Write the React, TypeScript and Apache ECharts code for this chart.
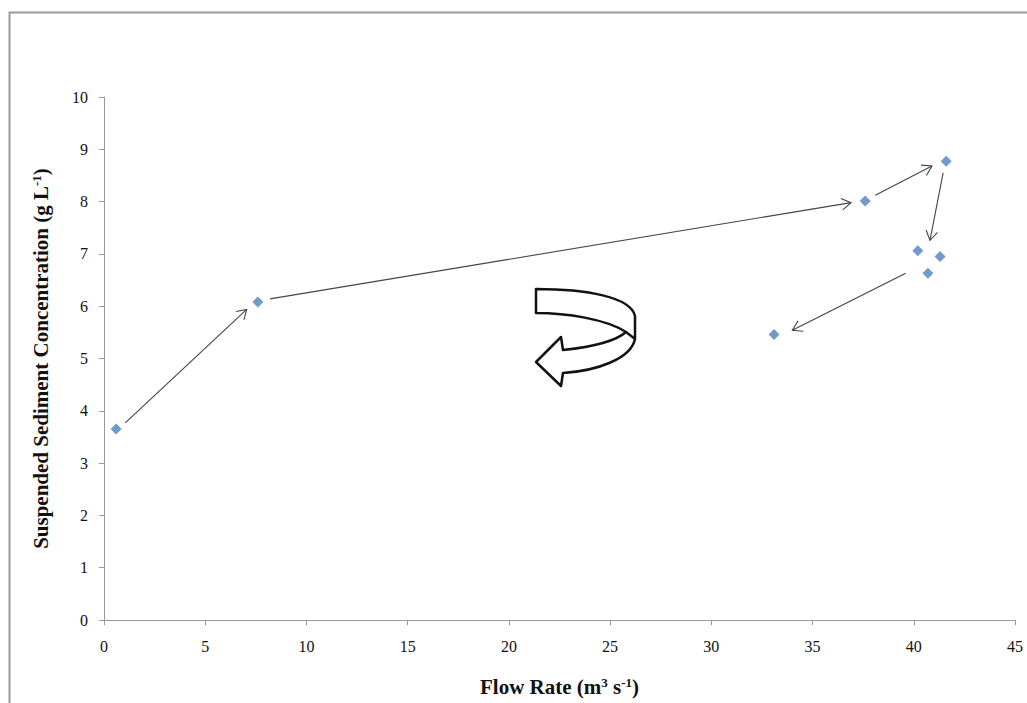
import React, { useEffect, useRef } from "react";
import * as echarts from "echarts";

// Flow rate (m3 s-1) and suspended sediment concentration (g L-1)
const flowRate = [0.6, 7.6, 37.6, 41.6, 40.2, 41.3, 40.7, 33.1];
const sediment = [3.65, 6.08, 8.01, 8.77, 7.06, 6.95, 6.63, 5.46];

// Hysteresis arrows: start and end in data units
const arrowFrom: number[][] = [
  [1.05, 3.77],
  [8.2, 6.14],
  [38.1, 8.12],
  [41.45, 8.55],
  [39.6, 6.63],
];
const arrowTo: number[][] = [
  [7.05, 5.94],
  [36.9, 7.98],
  [40.9, 8.68],
  [40.8, 7.26],
  [34.0, 5.54],
];

const xTicks = { min: 0, max: 45, interval: 5 };
const yTicks = { min: 0, max: 10, interval: 1 };

const uturnPath =
  "M0 0 C50 0 95 8 99 27 L99 50 C95 70 60 82 27 84 L25 97 L0 73 L25 48 L27 61 C55 58 80 52 90 43 C70 30 30 24 0 24 Z M90 43 L99 50";

echarts.graphic.registerShape("uturn", (echarts.graphic as any).extendPath(uturnPath, {}));

const serif = "'Liberation Serif', 'Times New Roman', serif";

const titleStyle = {
  fontFamily: serif,
  fontWeight: "bold",
  fontSize: 21,
  color: "#111",
  rich: {
    sup: { fontSize: 13, fontFamily: serif, fontWeight: "bold", color: "#111", verticalAlign: "top", padding: [0, 0, 9, 0] },
  },
};

export default function App() {
  const ref = useRef<HTMLDivElement>(null);
  useEffect(() => {
    if (!ref.current) return;
    const chart = echarts.init(ref.current, undefined, { renderer: "svg" });
    const arrowData = arrowFrom.map((f, i) => [f[0], f[1], arrowTo[i][0], arrowTo[i][1]]);
    chart.setOption({
      animation: false,
      backgroundColor: "#ffffff",
      grid: { left: 104, right: 12, top: 97, bottom: 83 },
      xAxis: {
        type: "value",
        min: xTicks.min,
        max: xTicks.max,
        interval: xTicks.interval,
        name: "Flow Rate (m{sup|3} s{sup|-1})",
        nameLocation: "middle",
        nameGap: 56,
        nameTextStyle: titleStyle,
        axisLine: { show: true, lineStyle: { color: "#999", width: 1 } },
        axisTick: { show: true, inside: false, length: 5, lineStyle: { color: "#999" } },
        axisLabel: { fontFamily: serif, fontSize: 16, color: "#111", margin: 18 },
        splitLine: { show: false },
      },
      yAxis: {
        type: "value",
        min: yTicks.min,
        max: yTicks.max,
        interval: yTicks.interval,
        name: "Suspended Sediment Concentration (g L{sup|-1})",
        nameLocation: "middle",
        nameGap: 52,
        nameTextStyle: titleStyle,
        axisLine: { show: true, lineStyle: { color: "#999", width: 1 } },
        axisTick: { show: true, inside: false, length: 5, lineStyle: { color: "#999" } },
        axisLabel: { fontFamily: serif, fontSize: 16, color: "#111", margin: 16 },
        splitLine: { show: false },
      },
      series: [
        {
          type: "custom",
          coordinateSystem: "cartesian2d",
          silent: true,
          renderItem: (params: any, api: any) => {
            const p1 = api.coord([api.value(0), api.value(1)]);
            const p2 = api.coord([api.value(2), api.value(3)]);
            const dx = p2[0] - p1[0];
            const dy = p2[1] - p1[1];
            const len = Math.sqrt(dx * dx + dy * dy) || 1;
            const ux = dx / len;
            const uy = dy / len;
            const head = 11;
            const ang = (32 * Math.PI) / 180;
            const cos = Math.cos(ang);
            const sin = Math.sin(ang);
            const bx = -ux;
            const by = -uy;
            const a1 = [p2[0] + head * (bx * cos - by * sin), p2[1] + head * (bx * sin + by * cos)];
            const a2 = [p2[0] + head * (bx * cos + by * sin), p2[1] + head * (-bx * sin + by * cos)];
            return {
              type: "group",
              children: [
                {
                  type: "line",
                  shape: { x1: p1[0], y1: p1[1], x2: p2[0], y2: p2[1] },
                  style: { stroke: "#444", lineWidth: 1.1 },
                },
                {
                  type: "polyline",
                  shape: { points: [a1, p2, a2] },
                  style: { stroke: "#444", lineWidth: 1.1, fill: null },
                },
              ],
            };
          },
          data: arrowData,
          z: 2,
        },
        {
          type: "scatter",
          symbol: "diamond",
          symbolSize: 11,
          itemStyle: { color: "#4F81BD" },
          data: flowRate.map((x, i) => [x, sediment[i]]),
          z: 3,
        },
      ],
      graphic: [
        {
          type: "rect",
          shape: { x: 9.5, y: 12.5, width: 1100, height: 800 },
          style: { fill: null, stroke: "#999", lineWidth: 2 },
          silent: true,
          z: 0,
        },
        {
          type: "uturn",
          x: 536,
          y: 289,
          scaleX: 1,
          scaleY: 1,
          style: { fill: "#ffffff", stroke: "#111", lineWidth: 2.5, lineJoin: "round" },
          silent: true,
          z: 5,
        },
      ],
    });
    return () => chart.dispose();
  }, []);
  return (
    <div
      ref={ref}
      style={{ position: "absolute", left: 0, top: 0, width: 1027, height: 703, background: "#fff" }}
    />
  );
}
